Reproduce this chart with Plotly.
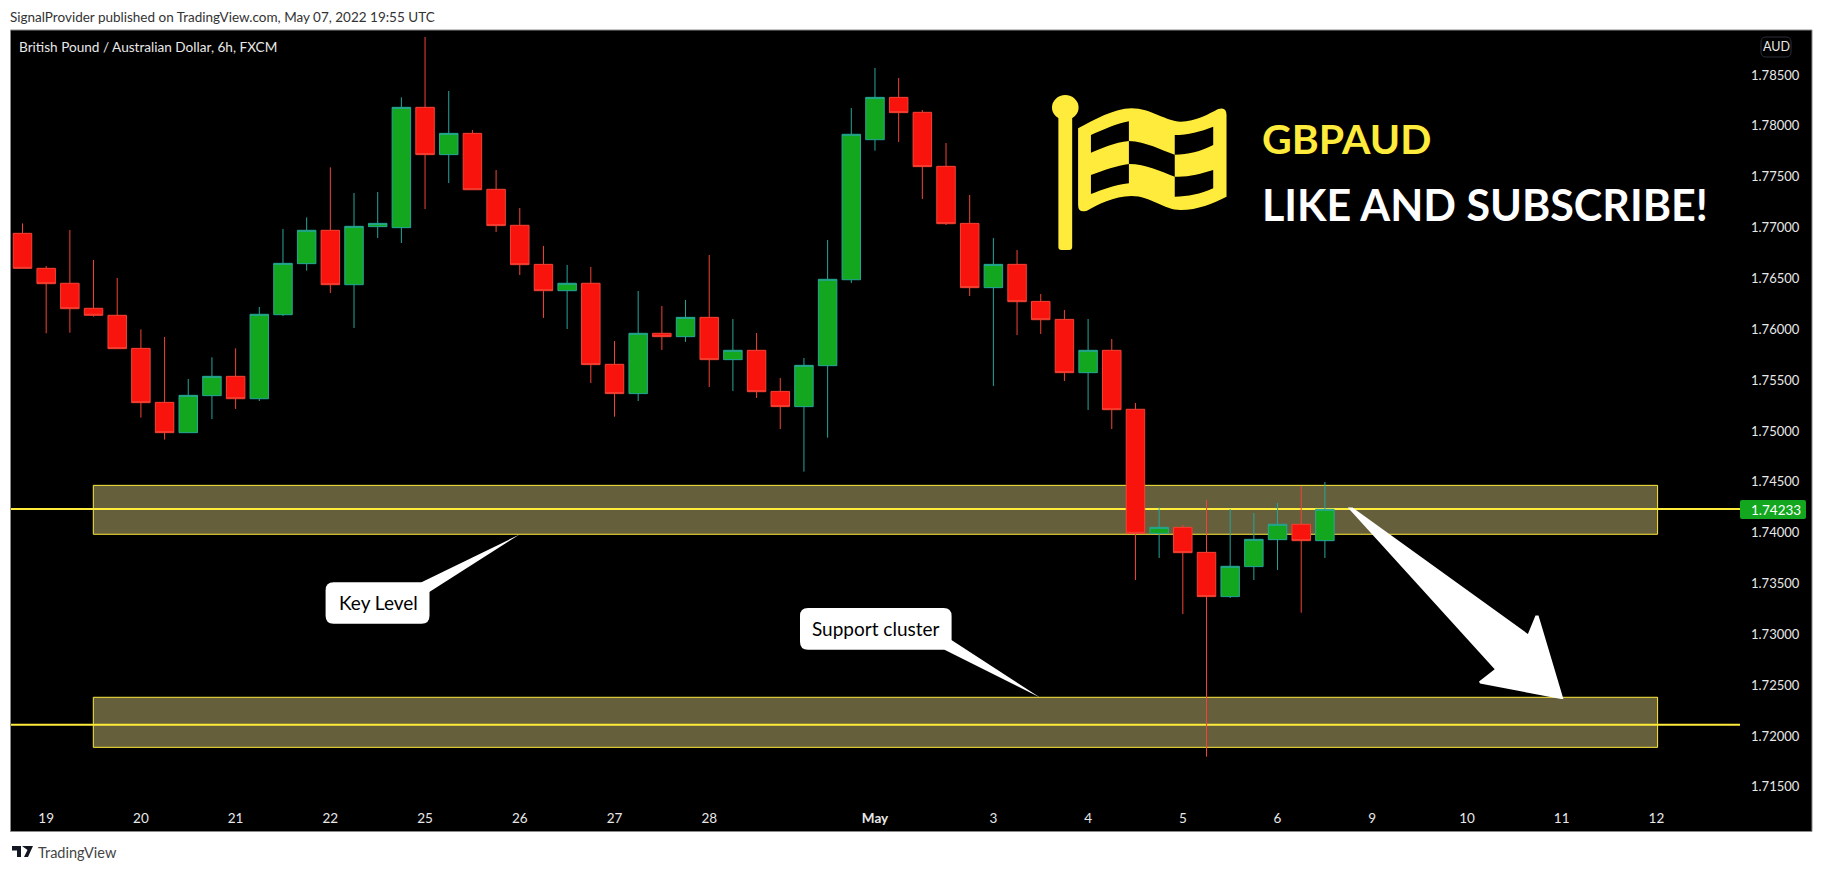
import plotly.graph_objects as go

W, H = 1823, 871
FL, FR, FT, FB = 11, 1740, 30, 802   # plot area in page pixels

open_ = [1.76943,1.76599,1.76452,1.76206,1.76137,1.75812,1.75281,1.74983,1.75347,1.75537,1.75317,1.76143,1.76645,1.76973,1.76438,1.77009,1.76999,1.78182,1.77717,1.77926,1.77376,1.77022,1.76638,1.76379,1.76452,1.75655,
         1.75367,1.75960,1.75927,1.76117,1.75701,1.75793,1.75389,1.75239,1.75642,1.76487,1.77864,1.78280,1.78133,1.77602,1.77041,1.76409,1.76638,1.76274,1.76097,1.75573,1.75793,1.75213,1.73993,1.74052,1.73806,1.73371,1.73666,1.73931,1.74082,1.73921]
high  = [1.77041,1.76622,1.76976,1.76681,1.76504,1.75999,1.75924,1.75511,1.75724,1.75812,1.76219,1.76986,1.77100,1.77592,1.77340,1.77350,1.78280,1.78874,1.78343,1.77959,1.77566,1.77192,1.76819,1.76632,1.76612,1.75884,
         1.76376,1.76229,1.76288,1.76730,1.76101,1.75963,1.75521,1.75717,1.76878,1.78175,1.78569,1.78471,1.78156,1.77831,1.77320,1.76897,1.76779,1.76347,1.76189,1.76101,1.75904,1.75275,1.74249,1.74075,1.74321,1.74233,1.74193,1.74292,1.74459,1.74498]
low   = [1.76599,1.75960,1.75966,1.76124,1.75809,1.75131,1.74915,1.74983,1.75117,1.75216,1.75294,1.76130,1.76576,1.76356,1.76012,1.76897,1.76848,1.77182,1.77438,1.77372,1.76956,1.76533,1.76111,1.76002,1.75471,1.75140,
         1.75294,1.75796,1.75875,1.75432,1.75393,1.75324,1.75019,1.74600,1.74934,1.76455,1.77756,1.77841,1.77281,1.77025,1.76327,1.75442,1.75943,1.75953,1.75491,1.75206,1.75019,1.73534,1.73751,1.73200,1.71797,1.73357,1.73534,1.73633,1.73213,1.73751]
close = [1.76599,1.76448,1.76202,1.76137,1.75809,1.75278,1.74983,1.75350,1.75537,1.75317,1.76147,1.76648,1.76973,1.76438,1.77012,1.77041,1.78182,1.77717,1.77926,1.77372,1.77019,1.76635,1.76379,1.76452,1.75652,1.75367,
         1.75960,1.75927,1.76117,1.75701,1.75793,1.75386,1.75239,1.75645,1.76491,1.77917,1.78280,1.78130,1.77599,1.77038,1.76409,1.76638,1.76271,1.76094,1.75573,1.75793,1.75209,1.73993,1.74052,1.73803,1.73371,1.73669,1.73934,1.74082,1.73921,1.74229]
bar_index = list(range(len(close)))

price_ticks = [1.715,1.72,1.725,1.73,1.735,1.74,1.745,1.75,1.755,1.76,1.765,1.77,1.775,1.78,1.785]
date_pos    = [1,5,9,13,17,21,25,29,36,41,45,49,53,57,61,65,69]
date_labels = ["19","20","21","22","25","26","27","28","<b>May</b>","3","4","5","6","9","10","11","12"]

level_lines = [1.74233, 1.72111]
zone_tops   = [1.74465, 1.72381]
zone_bots   = [1.73984, 1.71889]
zone_start, zone_end = 2.99, 69.05
last_price = 1.74233

X_STEP, X0 = 23.68, 22.5
Y_STEP, Y0 = 9.833e-5, 75
x_range = [(FL - X0) / X_STEP, (FR - X0) / X_STEP]
y_range = [1.785 - (FB - Y0) * Y_STEP, 1.785 - (FT - Y0) * Y_STEP]

FONT = "Lato"
YEL = "#ffeb3b"

def px(x): return (x - FL) / (FR - FL)
def py(y): return (FB - y) / (FB - FT)
def P(x, y): return f"{px(x):.5f} {py(y):.5f}"

fig = go.Figure(go.Candlestick(
    x=bar_index, open=open_, high=high, low=low, close=close,
    increasing=dict(line=dict(color="#26a69a", width=1), fillcolor="#12a71e"),
    decreasing=dict(line=dict(color="#f44336", width=1), fillcolor="#f8130c"),
    whiskerwidth=0, showlegend=False, hoverinfo="skip"))

shapes = []
def rect_px(x0, y0, x1, y1, fill, line=None, lw=1, layer="below"):
    shapes.append(dict(type="rect", xref="paper", yref="paper", x0=px(x0), x1=px(x1), y0=py(y0), y1=py(y1),
                       fillcolor=fill, line=dict(color=line or fill, width=lw if line else 0), layer=layer))

# chart frame and axis panels
rect_px(10.5, 30, 1812, 831.5, "#000000", "#8a8a8a", 1)
for t, b in zip(zone_tops, zone_bots):
    shapes.append(dict(type="rect", xref="x", yref="y", x0=zone_start, x1=zone_end, y0=b, y1=t,
                       fillcolor="#655f3b", line=dict(color=YEL, width=1), layer="below"))
for v in level_lines:
    shapes.append(dict(type="line", xref="x", yref="y", x0=x_range[0], x1=x_range[1], y0=v, y1=v,
                       line=dict(color=YEL, width=2), layer="below"))

def path_px(points, fill, layer="above", lw=0, lc=None):
    d = "M" + " L".join(P(*p) for p in points) + " Z"
    shapes.append(dict(type="path", xref="paper", yref="paper", path=d, fillcolor=fill,
                       line=dict(color=lc or fill, width=lw), layer=layer))

def round_rect(x0, y0, x1, y1, r):
    return (f"M{P(x0+r,y0)} L{P(x1-r,y0)} Q{P(x1,y0)} {P(x1,y0+r)} L{P(x1,y1-r)} Q{P(x1,y1)} {P(x1-r,y1)} "
            f"L{P(x0+r,y1)} Q{P(x0,y1)} {P(x0,y1-r)} L{P(x0,y0+r)} Q{P(x0,y0)} {P(x0+r,y0)} Z")

# callouts
for box, tail in [((325.6,582.3,429.5,623.7), [(421,582.5),(519.5,534.5),(429.3,592)]),
                  ((800,608,951.6,649.7), [(944,649.5),(1040,697.5),(951.4,640)])]:
    shapes.append(dict(type="path", xref="paper", yref="paper", path=round_rect(*box, 8),
                       fillcolor="#ffffff", line=dict(width=0), layer="above"))
    path_px(tail, "#ffffff")

# big arrow
path_px([(1347.8,507.5),(1352.5,507.5),(1527.9,634),(1535.5,615.5),(1538.5,615.5),(1563.4,699),(1561,699),(1480,683.5),(1479,681.5),(1494.7,669.3)],
        "#ffffff")

# flag icon
def fx(z): return 1050 + z / 2.028
def fy(z): return 20 + z / 3
def Pf(x, y): return P(fx(x), fy(y))
flag = (f"M{Pf(57,325)} C{Pf(90,300)} {Pf(130,265)} {Pf(165,265)} C{Pf(205,265)} {Pf(235,305)} {Pf(265,305)} "
        f"C{Pf(295,305)} {Pf(325,280)} {Pf(340,268)} Q{Pf(358,258)} {Pf(358,285)} L{Pf(358,530)} "
        f"C{Pf(330,550)} {Pf(300,570)} {Pf(265,570)} C{Pf(230,570)} {Pf(205,528)} {Pf(165,528)} "
        f"C{Pf(130,528)} {Pf(95,555)} {Pf(75,572)} Q{Pf(57,580)} {Pf(57,555)} Z "
        f"M{Pf(83,345)} C{Pf(110,328)} {Pf(135,310)} {Pf(160,304)} L{Pf(160,363)} C{Pf(130,367)} {Pf(105,385)} {Pf(83,398)} Z "
        f"M{Pf(253,345)} C{Pf(280,345)} {Pf(305,335)} {Pf(331,320)} L{Pf(331,375)} C{Pf(305,395)} {Pf(280,404)} {Pf(253,404)} Z "
        f"M{Pf(160,363)} C{Pf(195,365)} {Pf(225,390)} {Pf(253,404)} L{Pf(253,470)} C{Pf(225,455)} {Pf(195,432)} {Pf(160,432)} Z "
        f"M{Pf(83,465)} C{Pf(110,450)} {Pf(135,437)} {Pf(160,432)} L{Pf(160,490)} C{Pf(130,495)} {Pf(105,510)} {Pf(83,522)} Z "
        f"M{Pf(253,470)} C{Pf(280,472)} {Pf(305,462)} {Pf(331,450)} L{Pf(331,505)} C{Pf(305,522)} {Pf(280,530)} {Pf(253,530)} Z")
shapes.append(dict(type="path", xref="paper", yref="paper", path=flag, fillcolor=YEL, line=dict(width=0), layer="above"))
shapes.append(dict(type="path", xref="paper", yref="paper", path=round_rect(fx(17), 112, fx(45), 250, 3),
                   fillcolor=YEL, line=dict(width=0), layer="above"))
shapes.append(dict(type="circle", xref="paper", yref="paper", x0=px(fx(4)), x1=px(fx(58)), y0=py(95), y1=py(120),
                   fillcolor=YEL, line=dict(width=0), layer="above"))

# price tag and currency button
shapes.append(dict(type="path", xref="paper", yref="paper", path=round_rect(1740, 500, 1806, 519, 2),
                   fillcolor="#12a71e", line=dict(width=0), layer="above"))
shapes.append(dict(type="path", xref="paper", yref="paper", path=round_rect(1761, 37, 1791, 57, 5),
                   fillcolor="#000000", line=dict(color="#2a2e39", width=1), layer="above"))

# TradingView logo
path_px([(12,846),(21,846),(21,857),(17,857),(17,850.5),(12,850.5)], "#131722")
path_px([(22,846),(33,846),(28,857),(24,857),(27.5,850)], "#131722")

anns = []
def text_px(x, y, s, size, color, anchor="left", family=FONT):
    anns.append(dict(xref="paper", yref="paper", x=px(x), y=py(y), text=s, showarrow=False, xanchor=anchor,
                     yanchor="middle", align=anchor, font=dict(family=family, size=size, color=color)))

text_px(8, 17, "SignalProvider published on TradingView.com, May 07, 2022 19:55 UTC", 13.5, "#333333")
text_px(17, 47, "British Pound / Australian Dollar, 6h, FXCM", 13.6, "#e8e8e8")
text_px(1260, 138, "<b>GBPAUD</b>", 41, YEL)
text_px(1260, 204, "<b>LIKE AND SUBSCRIBE!</b>", 43, "#ffffff")
text_px(378, 602.5, "Key Level", 19, "#000000", "center")
text_px(876, 628.5, "Support cluster", 19, "#000000", "center")
text_px(1775.5, 509.5, "1.74233", 13.5, "#ffffff", "center")
text_px(1776, 47, "AUD", 12.5, "#e8e8e8", "center")
text_px(35.5, 852, "TradingView", 14.5, "#444444")

fig.update_layout(
    width=W, height=H, autosize=False,
    margin=dict(l=FL, r=W - FR, t=FT, b=H - FB, pad=0),
    paper_bgcolor="#ffffff", plot_bgcolor="rgba(0,0,0,0)",
    boxgap=0.22, boxgroupgap=0,
    font=dict(family=FONT),
    shapes=shapes, annotations=anns, showlegend=False,
    xaxis=dict(range=x_range, tickmode="array", tickvals=date_pos, ticktext=date_labels, showgrid=False, zeroline=False,
               rangeslider=dict(visible=False), ticks="", showline=False, ticklabelstandoff=6,
               tickfont=dict(size=13.5, color="#e8e8e8", family=FONT)),
    yaxis=dict(range=y_range, side="right", tickmode="array", tickvals=price_ticks,
               ticktext=[f"{v:.5f}" for v in price_ticks], showgrid=False, zeroline=False, ticks="", showline=False,
               ticklabelstandoff=10, tickfont=dict(size=13, color="#e8e8e8", family=FONT)),
)

fig.write_html("out.html", post_script="document.body.style.margin='0';", config=dict(displayModeBar=False))
